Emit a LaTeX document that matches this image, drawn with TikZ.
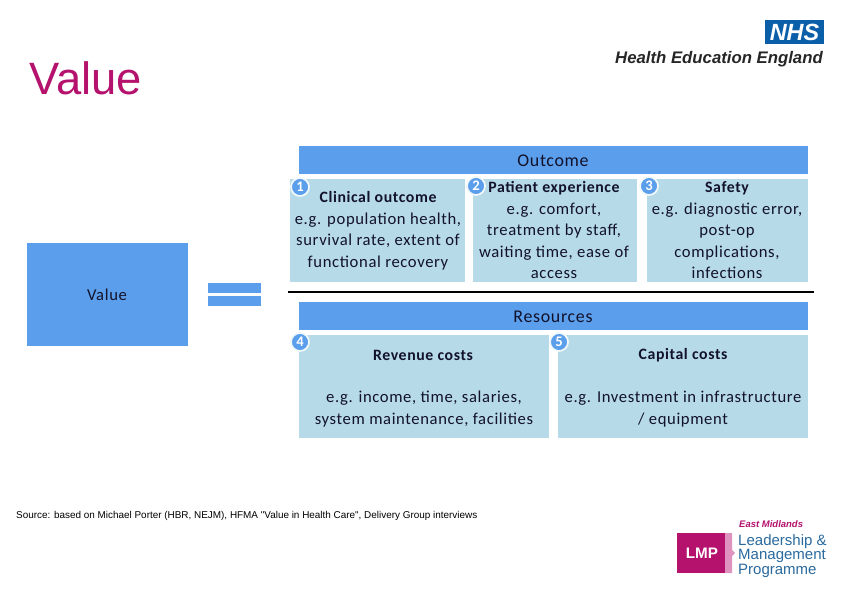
\documentclass[tikz,border=0pt]{standalone}
\usepackage{fontspec}
\usepackage{xcolor}
\setmainfont{Carlito}[LetterSpace=3.8]
\newfontfamily\arialfont{Liberation Sans}
\definecolor{barblue}{HTML}{5B9EEC}
\definecolor{paleblue}{HTML}{B7DAE8}
\definecolor{nhsblue}{HTML}{0B5EA8}
\definecolor{lmppink}{HTML}{B5126E}
\definecolor{lmpblue}{HTML}{2A6A9E}
\definecolor{inkdark}{HTML}{12122A}
\newcommand{\headtext}[1]{{\fontsize{13.5}{18.3}\selectfont\bfseries #1}}
\tikzset{
  bodytext/.style={font=\fontsize{14.2}{18.3}\selectfont,text=inkdark,align=center,inner sep=0pt},
  bartext/.style={font=\fontsize{15.3}{18.3}\selectfont,text=inkdark,inner sep=0pt},
  badge/.style={circle,fill=barblue,draw=white!80!paleblue,line width=1.5pt,minimum size=0.54cm,inner sep=0pt,text=white,font=\fontsize{12.5}{12.5}\selectfont\bfseries},
  lmptext/.style={font=\arialfont\fontsize{12.8}{12.4}\selectfont,text=lmpblue,align=left,anchor=north west,inner sep=0pt}
}
\begin{document}
\begin{tikzpicture}[x=0.03cm,y=-0.03cm]
\useasboundingbox (0,0) rectangle (842,596);
\fill[white] (0,0) rectangle (842,596);
\node[anchor=west,inner sep=0pt,text=lmppink,font=\arialfont\fontsize{38.7}{38.7}\selectfont] (title) at (29,78) {Value};
%% logo top right
\fill[nhsblue] (765,20) rectangle (824,44);
\node[inner sep=0pt,text=white,font=\arialfont\fontsize{20}{20}\selectfont\bfseries\itshape] (nhs) at (794.5,32) {NHS};
\node[inner sep=0pt,anchor=east,text=black!85,font=\arialfont\fontsize{14.3}{14.3}\selectfont\bfseries\itshape] (hee) at (823,59) {Health Education England};
%% left side
\fill[barblue] (27,243) rectangle (188,346);
\node[bodytext] (value) at (107,295) {Value};
\fill[barblue] (208,283) rectangle (261,293);
\fill[barblue] (208,296) rectangle (261,306);
\draw[line width=2.4pt] (288,292)--(814,292);
%% outcome
\fill[barblue] (299,146) rectangle (808,174);
\node[bartext] (outcome) at (553,161) {Outcome};
\fill[paleblue] (290,179) rectangle (465,282);
\fill[paleblue] (473,179) rectangle (637,282);
\fill[paleblue] (647,179) rectangle (808,282);
\node[bodytext,anchor=north] (clinical) at (378,191.5) {\headtext{Clinical outcome}\\e.g. population health,\\survival rate, extent of\\functional recovery};
\node[bodytext,anchor=north] (patient) at (554,181.5) {\headtext{Patient experience}\\e.g. comfort,\\treatment by staff,\\waiting time, ease of\\access};
\node[bodytext,anchor=north] (safety) at (727,181.5) {\headtext{Safety}\\e.g. diagnostic error,\\post-op\\complications,\\infections};
%% resources
\fill[barblue] (299,302) rectangle (808,330);
\node[bartext] (resources) at (553,317) {Resources};
\fill[paleblue] (299,335) rectangle (549,438);
\fill[paleblue] (558,335) rectangle (808,438);
\node[bodytext] (revenue) at (423,355.5) {\headtext{Revenue costs}};
\node[bodytext,anchor=north] (revenuetext) at (424,391) {e.g. income, time, salaries,\\system maintenance, facilities};
\node[bodytext] (capital) at (683,355.5) {\headtext{Capital costs}};
\node[bodytext,anchor=north] (capitaltext) at (683,391) {e.g. Investment in infrastructure\\/ equipment};
%% numbers
\node[badge] (one) at (300,187) {1};
\node[badge] (two) at (476,186) {2};
\node[badge] (three) at (649,186) {3};
\node[badge] (four) at (300,342) {4};
\node[badge] (five) at (559,342) {5};
%% source
\node[anchor=west,inner sep=0pt,text=black,font=\arialfont\fontsize{8.47}{8.5}\selectfont] (source) at (16,516) {Source: based on Michael Porter (HBR, NEJM), HFMA "Value in Health Care", Delivery Group interviews};
%% logo bottom right
\fill[lmppink!45] (725,533)--(732,533)--(732,550)--(735,553)--(732,556)--(732,573)--(725,573)--cycle;
\fill[lmppink] (677,533) rectangle (725,573);
\node[inner sep=0pt,text=white,font=\arialfont\fontsize{13}{13}\selectfont\bfseries] (lmp) at (702,553) {LMP};
\node[anchor=west,inner sep=0pt,text=lmppink,font=\arialfont\fontsize{8.1}{8.1}\selectfont\bfseries\itshape] (midlands) at (739,524) {East Midlands};
\node[lmptext] (lmpname) at (738,534) {Leadership \&\\Management\\Programme};
\end{tikzpicture}
\end{document}
